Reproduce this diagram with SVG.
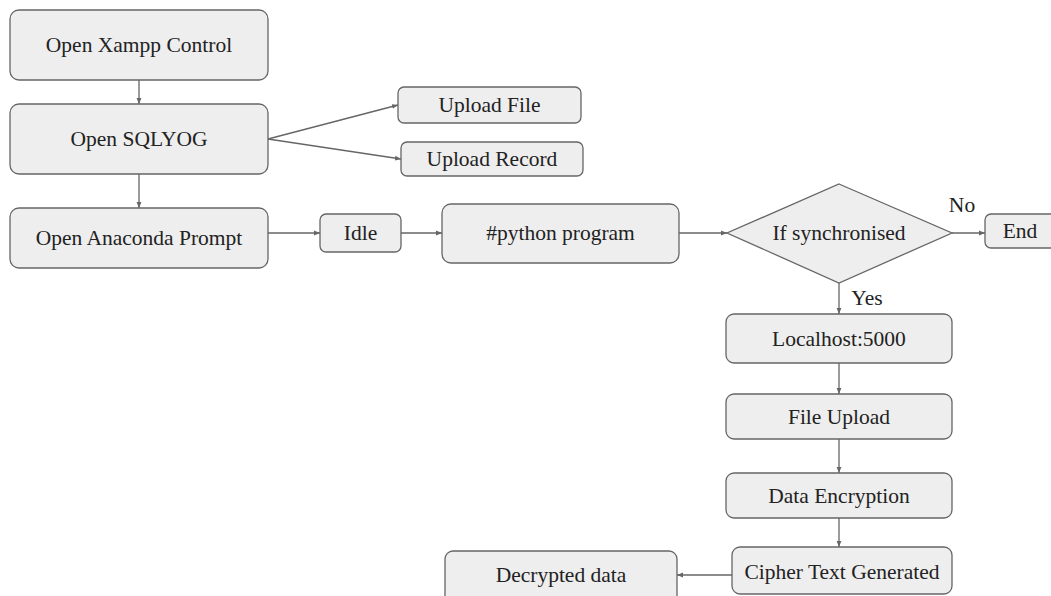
<svg xmlns="http://www.w3.org/2000/svg" width="1051" height="596" viewBox="0 0 1051 596">
<style>
.box{fill:#eeeeee;stroke:#666666;stroke-width:1.3}
.lbl{font-family:'Liberation Serif','Times New Roman',serif;font-size:21.5px;fill:#222222;text-anchor:middle}
.edge{fill:none;stroke:#666666;stroke-width:1.3;marker-end:url(#arr)}
</style>
<defs>
<marker id="arr" viewBox="0 0 10 10" refX="10" refY="5" markerWidth="6" markerHeight="6" orient="auto" markerUnits="userSpaceOnUse">
<path d="M0,1 L10,5 L0,9 z" fill="#666666"/>
</marker>
</defs>
<rect width="1051" height="596" fill="#ffffff"/>
<g id="connectors">
<line class="edge" x1="139" y1="80" x2="139" y2="104"/>
<line class="edge" x1="268" y1="139" x2="398" y2="105"/>
<line class="edge" x1="268" y1="139" x2="401" y2="159"/>
<line class="edge" x1="139" y1="174" x2="139" y2="208"/>
<line class="edge" x1="268" y1="233" x2="320" y2="233"/>
<line class="edge" x1="401" y1="233" x2="442" y2="233"/>
<line class="edge" x1="679" y1="233" x2="727" y2="233"/>
<line class="edge" x1="952" y1="233" x2="985" y2="233"/>
<line class="edge" x1="839" y1="283" x2="839" y2="314"/>
<line class="edge" x1="839" y1="363" x2="839" y2="394"/>
<line class="edge" x1="839" y1="439" x2="839" y2="473"/>
<line class="edge" x1="839" y1="518" x2="839" y2="547"/>
<line class="edge" x1="732" y1="575" x2="677" y2="575"/>
<text class="lbl" x="962" y="212">No</text>
<text class="lbl" x="867" y="305">Yes</text>
</g>
<g id="n_xampp"><rect class="box" x="10" y="10" width="258" height="70" rx="9"/><text class="lbl" x="139" y="52">Open Xampp Control</text></g>
<g id="n_sqlyog"><rect class="box" x="10" y="104" width="258" height="70" rx="9"/><text class="lbl" x="139" y="146">Open SQLYOG</text></g>
<g id="n_anaconda"><rect class="box" x="10" y="208" width="258" height="60" rx="9"/><text class="lbl" x="139" y="245">Open Anaconda Prompt</text></g>
<g id="n_uploadfile"><rect class="box" x="398" y="87" width="183" height="36" rx="6"/><text class="lbl" x="489.5" y="112">Upload File</text></g>
<g id="n_uploadrecord"><rect class="box" x="401" y="142" width="182" height="34" rx="6"/><text class="lbl" x="492" y="166">Upload Record</text></g>
<g id="n_idle"><rect class="box" x="320" y="214" width="81" height="38" rx="6"/><text class="lbl" x="360.5" y="240">Idle</text></g>
<g id="n_python"><rect class="box" x="442" y="204" width="237" height="59" rx="9"/><text class="lbl" x="560.5" y="240">#python program</text></g>
<g id="n_decision"><polygon class="box" points="839,184 952,233 839,283 727,233"/><text class="lbl" x="839" y="240">If synchronised</text></g>
<g id="n_end"><rect class="box" x="985" y="214" width="72" height="34" rx="6"/><text class="lbl" x="1020" y="238">End</text></g>
<g id="n_localhost"><rect class="box" x="726" y="314" width="226" height="49" rx="8"/><text class="lbl" x="839" y="346">Localhost:5000</text></g>
<g id="n_fileupload"><rect class="box" x="726" y="394" width="226" height="45" rx="8"/><text class="lbl" x="839" y="424">File Upload</text></g>
<g id="n_dataenc"><rect class="box" x="726" y="473" width="226" height="45" rx="8"/><text class="lbl" x="839" y="503">Data Encryption</text></g>
<g id="n_cipher"><rect class="box" x="732" y="547" width="220" height="47" rx="8"/><text class="lbl" x="842" y="579">Cipher Text Generated</text></g>
<g id="n_decrypted"><rect class="box" x="445" y="551" width="232" height="60" rx="8"/><text class="lbl" x="561" y="582">Decrypted data</text></g>
</svg>
